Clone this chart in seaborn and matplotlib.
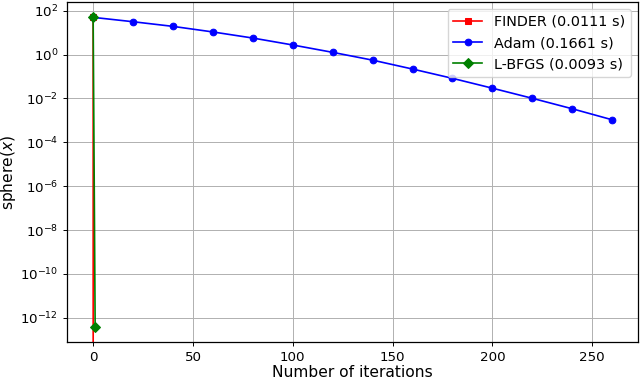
import numpy as np
import pandas as pd
import matplotlib
matplotlib.use("Agg")
import matplotlib.pyplot as plt
import seaborn as sns

# --- Data ---
FINDER_ITERS = [0, 1]
FINDER_VALUES = [50.0, 0.0]

ADAM_ITERS = [0, 20, 40, 60, 80, 100, 120, 140, 160, 180, 200, 220, 240, 260]
ADAM_VALUES = [50.0, 31.6, 19.4, 10.8, 5.7, 2.75, 1.27, 0.56, 0.22, 0.083,
               0.0295, 0.0102, 0.0034, 0.00107]

LBFGS_ITERS = [0, 1]
LBFGS_VALUES = [50.0, 4e-13]

SERIES = [
    ('FINDER (0.0111 s)', FINDER_ITERS, FINDER_VALUES, 'red', 's'),
    ('Adam (0.1661 s)', ADAM_ITERS, ADAM_VALUES, 'blue', 'o'),
    ('L-BFGS (0.0093 s)', LBFGS_ITERS, LBFGS_VALUES, 'green', 'D'),
]

fig, ax = plt.subplots(figsize=(6.4, 3.8), dpi=100)
ax.set_yscale('log')

for label, iters, values, color, marker in SERIES:
    df = pd.DataFrame({'iter': iters, 'value': values})
    sns.lineplot(data=df, x='iter', y='value', ax=ax, color=color, marker=marker,
                 markeredgecolor=color, markersize=4.8, linewidth=1.2,
                 estimator=None, label=label)

ax.grid(True, color='#b0b0b0', linewidth=0.7)
ax.set_xlabel('Number of iterations', fontsize=11.2, labelpad=1)
ax.set_ylabel(r'sphere($x$)', fontsize=11.2, labelpad=1)
ax.tick_params(labelsize=9.6, length=3, width=0.7)
for spine in ax.spines.values():
    spine.set_linewidth(0.9)
ax.legend(loc='upper right', fontsize=10.4)

fig.subplots_adjust(left=0.105, right=0.997, top=0.995, bottom=0.1)
plt.savefig('out.png', dpi=100)
